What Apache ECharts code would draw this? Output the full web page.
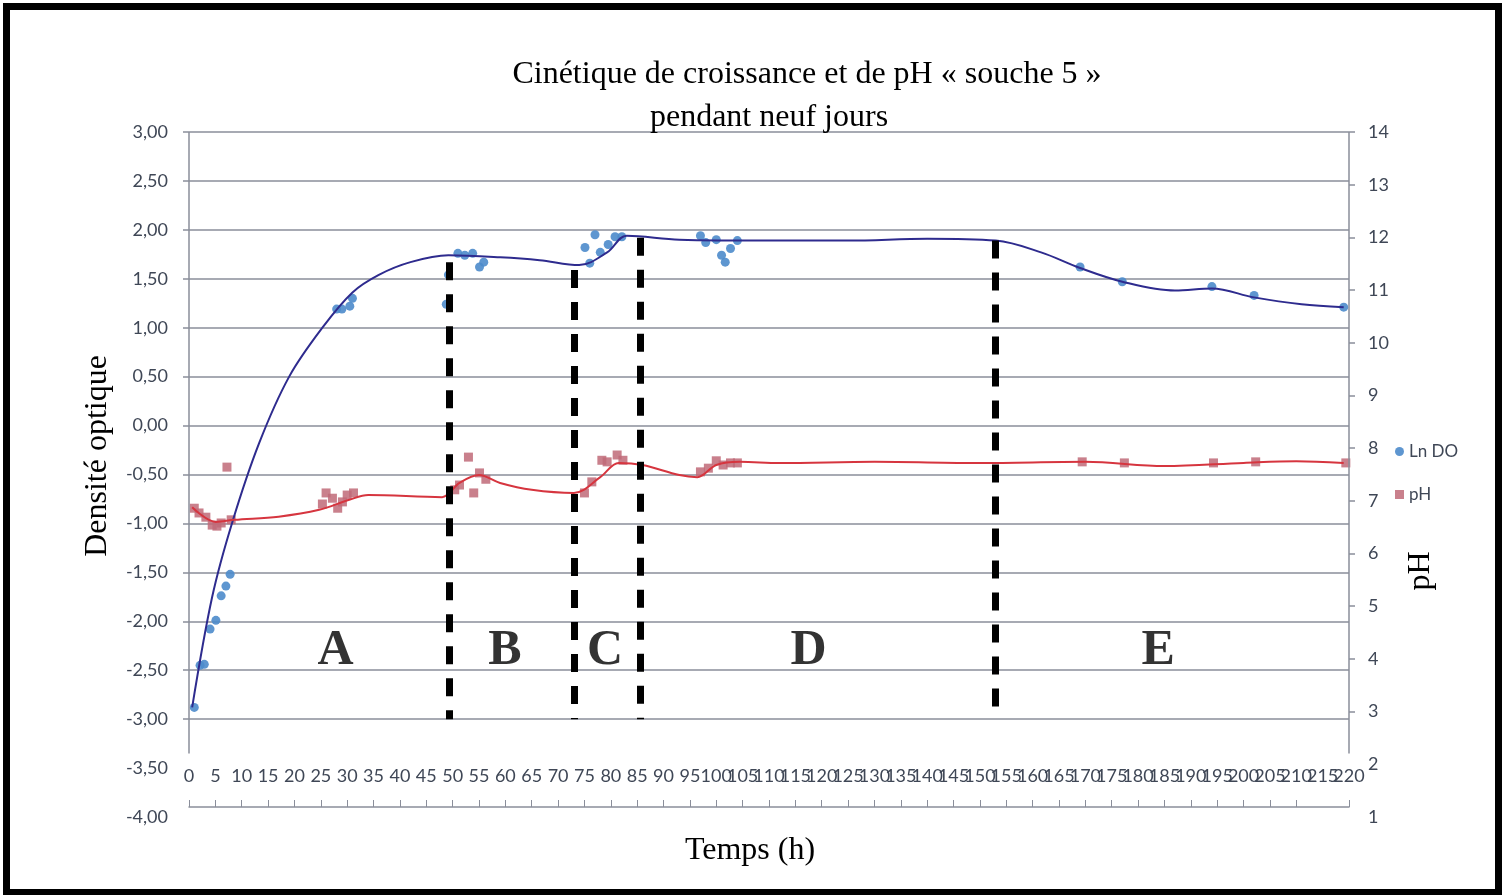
<!DOCTYPE html>
<html>
<head>
<meta charset="utf-8">
<style>
    html, body { margin: 0; padding: 0; background: #fff; }
    #main { width: 1503px; height: 895px; }
</style>
<script src="https://cdn.jsdelivr.net/npm/echarts/dist/echarts.min.js"></script>
</head>
<body>
<div id="main"></div>
<script>
// Ln DO points (heures, valeur)
var doHours  = [1.0, 2.1, 2.9, 4.0, 5.1, 6.1, 7.0, 7.8, 28, 29, 30.5, 31, 48.8, 49.2, 51, 52.3, 53.8, 55.1, 55.9,
                75.1, 76, 77, 78, 79.5, 80.8, 82.1, 97, 98, 100, 101, 101.7, 102.7, 104, 169, 177, 194, 202, 219];
var doValues = [-2.88, -2.45, -2.44, -2.08, -1.99, -1.74, -1.64, -1.52, 1.19, 1.19, 1.22, 1.30, 1.24, 1.54, 1.76, 1.74, 1.76, 1.62, 1.67,
                1.82, 1.66, 1.95, 1.77, 1.85, 1.93, 1.93, 1.94, 1.87, 1.90, 1.74, 1.67, 1.81, 1.89, 1.62, 1.47, 1.42, 1.33, 1.21];

// pH points
var phHours  = [1, 1.9, 3.2, 4.4, 5.3, 6.1, 7.2, 8, 25.3, 26, 27.2, 28.2, 29.1, 30, 31.2, 50.4, 51.3, 53, 54, 55.1, 56.3,
                75, 76.4, 78.3, 79.3, 81.2, 82.3, 97, 98.5, 100, 101.3, 102.7, 104, 169.4, 177.4, 194.3, 202.3, 219.4];
var phValues = [6.86, 6.77, 6.69, 6.54, 6.52, 6.58, 7.64, 6.64, 6.94, 7.15, 7.05, 6.86, 6.98, 7.11, 7.15, 7.21, 7.30, 7.83, 7.15, 7.53, 7.41,
                7.15, 7.36, 7.77, 7.74, 7.87, 7.77, 7.55, 7.62, 7.76, 7.68, 7.72, 7.72, 7.74, 7.72, 7.72, 7.74, 7.72];

// courbes de tendance
var doTrendHours  = [0.6, 4.4, 8.2, 13.3, 19, 25.3, 31, 36, 42, 49.2, 59, 66.5, 74, 79.3, 83,
                     93, 110, 125, 140, 153, 161.6, 169, 177, 187, 194, 202, 211, 219];
var doTrendValues = [-2.88, -1.75, -0.99, -0.18, 0.5, 1.0, 1.36, 1.54, 1.67, 1.74, 1.72, 1.69, 1.64, 1.77, 1.94,
                     1.90, 1.89, 1.89, 1.91, 1.89, 1.77, 1.61, 1.47, 1.38, 1.40, 1.31, 1.24, 1.21];
var phTrendHours  = [0.6, 5.1, 8.6, 17, 24.7, 30.4, 34, 48, 51.3, 55, 59, 65, 73, 78, 81.5, 86, 93, 96.4, 100, 104.5,
                     112, 130, 150, 170, 185, 200, 210, 219];
var phTrendValues = [6.88, 6.60, 6.64, 6.70, 6.83, 7.02, 7.11, 7.07, 7.34, 7.49, 7.34, 7.21, 7.15, 7.45, 7.72, 7.68, 7.49, 7.45, 7.68, 7.74,
                     7.72, 7.74, 7.72, 7.74, 7.66, 7.72, 7.75, 7.72];

// phases
var phaseNames  = ['A', 'B', 'C', 'D', 'E'];
var phaseLabelX = [27.8, 59.9, 78.9, 117.5, 183.8];
var phaseLabelY = -2.3;
var phaseBounds = [49.3, 73.1, 85.6, 153];
var phaseTops   = [1.67, 1.59, 1.92, 1.89];

var leftTicks = [-3, -2.5, -2, -1.5, -1, -0.5, 0, 0.5, 1, 1.5, 2, 2.5, 3];
var rightTicks = [3, 4, 5, 6, 7, 8, 9, 10, 11, 12, 13, 14];

function pairs(xs, ys) {
    return xs.map(function (x, i) { return [x, ys[i]]; });
}

var labelFont = 'Lato';
var labelColor = '#3f4756';
var gridColor = '#8a8e9a';
var serif = '"Liberation Serif"';

var chart = echarts.init(document.getElementById('main'));

var markLines = phaseBounds.map(function (x, i) {
    return [{ coord: [x, phaseTops[i]] }, { coord: [x, -3] }];
});
var axisLines = [
    [{ coord: [0, 3], lineStyle: { type: 'solid', width: 1.5, color: gridColor } },
     { coord: [0, -3.35] }],
    [{ coord: [220, 3], lineStyle: { type: 'solid', width: 1.5, color: gridColor } },
     { coord: [220, -3.35] }]
];

var xLabelStyle = {
    inside: true, margin: 22,
    fontFamily: labelFont, fontSize: 18, color: labelColor
};

var option = {
    backgroundColor: '#fff',
    animation: false,
    title: [
        {
            text: 'Cinétique de croissance et de pH « souche 5 »',
            left: 802, top: 54, textAlign: 'center',
            textStyle: { fontFamily: 'Liberation Serif', fontSize: 32, fontWeight: 'normal', color: '#000' }
        },
        {
            text: 'pendant neuf jours',
            left: 764, top: 97, textAlign: 'center',
            textStyle: { fontFamily: 'Liberation Serif', fontSize: 32, fontWeight: 'normal', color: '#000' }
        }
    ],
    legend: {
        orient: 'vertical',
        left: 1390, top: 438,
        itemWidth: 9, itemHeight: 9, itemGap: 26,
        textStyle: { fontFamily: labelFont, fontSize: 17, color: labelColor },
        data: [
            { name: 'Ln DO', icon: 'circle' },
            { name: 'pH', icon: 'rect' }
        ]
    },
    grid: { left: 189, right: 154, top: 132, bottom: 78 },
    xAxis: [
        {
            type: 'value', min: 0, max: 220, interval: 5,
            position: 'bottom', offset: -10,
            axisLine: { show: true, onZero: false, lineStyle: { color: gridColor, width: 1.5 } },
            axisTick: { show: true, inside: true, length: 7, lineStyle: { color: gridColor } },
            axisLabel: Object.assign({ showMinLabel: true, showMaxLabel: true }, xLabelStyle),
            splitLine: { show: false }
        },
        {
            // second pass of the labels so the one next to 220 is not dropped
            type: 'value', min: 0, max: 220, interval: 5,
            position: 'bottom', offset: -10,
            axisLine: { show: false, onZero: false },
            axisTick: { show: false },
            axisLabel: Object.assign({
                showMaxLabel: false,
                formatter: function (v) { return v === 215 ? '215' : ''; }
            }, xLabelStyle),
            splitLine: { show: false }
        }
    ],
    yAxis: [
        {
            type: 'value', min: -4, max: 3, interval: 0.5,
            position: 'left',
            axisLine: { show: false, onZero: false },
            axisTick: { show: true, length: 6, customValues: leftTicks, lineStyle: { color: gridColor, width: 1.5 } },
            axisLabel: {
                margin: 21, fontFamily: labelFont, fontSize: 18, color: labelColor,
                formatter: function (v) { return v.toFixed(2).replace('.', ','); }
            },
            splitLine: { show: true, lineStyle: { color: gridColor, width: 1.5 } }
        },
        {
            type: 'value', min: 1, max: 14, interval: 1,
            position: 'right',
            axisLine: { show: false, onZero: false },
            axisTick: { show: true, length: 6, customValues: rightTicks, lineStyle: { color: gridColor, width: 1.5 } },
            axisLabel: { margin: 19, fontFamily: labelFont, fontSize: 18, color: labelColor },
            splitLine: { show: false }
        }
    ],
    graphic: [
        {
            type: 'rect', silent: true,
            shape: { x: 6.5, y: 6.5, width: 1492, height: 886 },
            style: { fill: 'none', stroke: '#000', lineWidth: 7 }
        },
        {
            type: 'text', x: 98, y: 456, rotation: Math.PI / 2,
            style: { text: 'Densité optique', font: '32px ' + serif, fill: '#000',
                     textAlign: 'center', textVerticalAlign: 'middle' }
        },
        {
            type: 'text', x: 1421, y: 571, rotation: Math.PI / 2,
            style: { text: 'pH', font: '32px ' + serif, fill: '#000',
                     textAlign: 'center', textVerticalAlign: 'middle' }
        },
        {
            type: 'text', x: 750, y: 851,
            style: { text: 'Temps (h)', font: '32px ' + serif, fill: '#000',
                     textAlign: 'center', textVerticalAlign: 'middle' }
        }
    ],
    series: [
        {
            name: 'Ln DO trend', type: 'line', yAxisIndex: 0,
            data: pairs(doTrendHours, doTrendValues),
            smooth: 0.35, symbol: 'none',
            lineStyle: { color: '#2e2b8e', width: 2 }, z: 3
        },
        {
            name: 'pH trend', type: 'line', yAxisIndex: 1,
            data: pairs(phTrendHours, phTrendValues),
            smooth: 0.35, symbol: 'none',
            lineStyle: { color: '#d6353f', width: 2 }, z: 3
        },
        {
            name: 'Ln DO', type: 'scatter', yAxisIndex: 0,
            data: pairs(doHours, doValues),
            symbol: 'circle', symbolSize: 9,
            itemStyle: { color: '#4c8bcb', opacity: 0.9 }, z: 2
        },
        {
            name: 'pH', type: 'scatter', yAxisIndex: 1,
            data: pairs(phHours, phValues),
            symbol: 'rect', symbolSize: 9,
            itemStyle: { color: '#c06a78', opacity: 0.85 }, z: 2
        },
        {
            name: 'phases', type: 'scatter', yAxisIndex: 0,
            symbolSize: 0, silent: true, z: 5,
            data: phaseNames.map(function (n, i) { return { name: n, value: [phaseLabelX[i], phaseLabelY] }; }),
            label: {
                show: true, position: 'inside', formatter: '{b}',
                fontFamily: 'Liberation Serif', fontWeight: 'bold', fontSize: 50, color: '#000'
            },
            markLine: {
                silent: true, symbol: ['none', 'none'], animation: false,
                label: { show: false },
                lineStyle: { color: '#000', width: 7, type: [18, 14] },
                data: markLines.concat(axisLines)
            }
        }
    ]
};

chart.setOption(option);
</script>
</body>
</html>
